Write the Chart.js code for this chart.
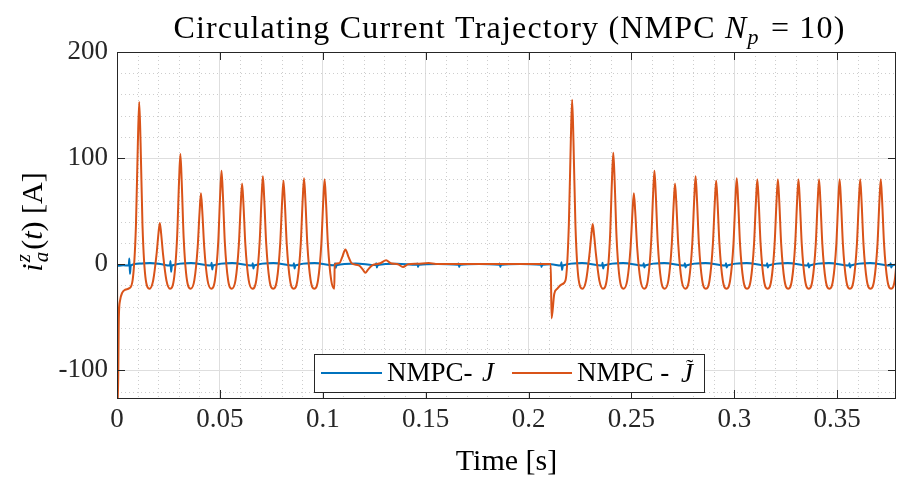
<!DOCTYPE html>
<html><head><meta charset="utf-8">
<script src="https://cdn.jsdelivr.net/npm/chart.js@4.4.0/dist/chart.umd.min.js"></script>
<style>html,body{margin:0;padding:0;background:#fff;}#wrap{width:897px;height:477px;}</style>
</head><body><div id="wrap"><canvas id="c" width="897" height="477"></canvas></div>
<script>
// ---------- tick values / labels ----------
const xTickValues = [0, 0.05, 0.1, 0.15, 0.2, 0.25, 0.3, 0.35];
const xTickLabels = ['0', '0.05', '0.1', '0.15', '0.2', '0.25', '0.3', '0.35'];
const xMinorTicks = [0.01,0.02,0.03,0.04,0.06,0.07,0.08,0.09,0.11,0.12,0.13,0.14,0.16,0.17,0.18,0.19,0.21,0.22,0.23,0.24,0.26,0.27,0.28,0.29,0.31,0.32,0.33,0.34,0.36,0.37];
const yTickValues = [-100, 0, 100, 200];
const yTickLabels = ['-100', '0', '100', '200'];
const yMinorTicks = [-120,-80,-60,-40,-20,20,40,60,80,120,140,160,180];
const xRange = [0, 0.3786];
const yRange = [-126, 200];
const seriesNames = ['NMPC- J', 'NMPC - J\u0303'];

// ---------- NMPC - J~ (orange): [time s, current A] ----------
const jTildeStartup = [[0,-4],[0.0004,-135],[0.0009,-50],[0.0015,-34],[0.0025,-27],[0.004,-24],[0.006,-22.5]];
const jTildePhase1 = [
[0.0076,-15],[0.0092,36],[0.01015,115],[0.0108,153],[0.01145,115],[0.0124,36],[0.014,-15],[0.0158,-23],
[0.0176,-15],[0.0192,9],[0.02015,29],[0.0208,39],[0.02145,29],[0.0224,9],[0.024,-15],[0.0258,-23],
[0.0276,-15],[0.0292,25],[0.03015,78],[0.0308,104],[0.03145,78],[0.0324,25],[0.034,-15],[0.0358,-23],
[0.0376,-15],[0.0392,16],[0.04015,50],[0.0408,67],[0.04145,50],[0.0424,16],[0.044,-15],[0.0458,-23],
[0.0476,-15],[0.0492,21],[0.05015,66],[0.0508,88],[0.05145,66],[0.0524,21],[0.054,-15],[0.0558,-23],
[0.0576,-15],[0.0592,18],[0.06015,57],[0.0608,76],[0.06145,57],[0.0624,18],[0.064,-15],[0.0658,-23],
[0.0677,-15],[0.0693,20],[0.07025,62],[0.0709,83],[0.07155,62],[0.0725,20],[0.0741,-15],[0.0759,-23],
[0.0777,-15],[0.0793,19],[0.08025,59],[0.0809,79],[0.08155,59],[0.0825,19],[0.0841,-15],[0.0859,-23],
[0.0877,-15],[0.0893,19],[0.09025,61],[0.0909,81],[0.09155,61],[0.0925,19],[0.0941,-15],[0.0959,-23],
[0.0977,-15],[0.0993,19],[0.10025,60],[0.1009,80],[0.10155,60],[0.1025,19],[0.1041,-15],[0.1056,-23]];
const jTildeSettle = [[0.1058,0],[0.108,1],[0.1095,7],[0.111,14],[0.1125,7],[0.114,1],[0.1175,-1],[0.1195,-5],[0.1207,-8],[0.122,-5],[0.124,-1],[0.128,1],[0.1308,3.8],[0.133,1],[0.1365,0],[0.139,-2.5],[0.1415,0],[0.146,0.5],[0.1515,1.2],[0.155,0.3],[0.16,0.3],[0.18,0.3],[0.2108,0.3]];
const jTildePhase2 = [
[0.2112,-51],[0.2125,-28],[0.214,-23],[0.216,-19],[0.218,-15],[0.2196,37],[0.22055,116],[0.2212,155],[0.22185,116],[0.2228,37],[0.2244,-15],[0.2262,-23],
[0.2280,-15],[0.2296,9],[0.23055,28],[0.2312,38],[0.23185,28],[0.2328,9],[0.2344,-15],[0.2362,-23],
[0.2380,-15],[0.2396,25],[0.24055,79],[0.2412,105],[0.24185,79],[0.2428,25],[0.2444,-15],[0.2462,-23],
[0.2480,-15],[0.2496,16],[0.25055,50],[0.2512,67],[0.25185,50],[0.2528,16],[0.2544,-15],[0.2562,-23],
[0.2580,-15],[0.2596,21],[0.26055,66],[0.2612,88],[0.26185,66],[0.2628,21],[0.2644,-15],[0.2662,-23],
[0.2680,-15],[0.2696,18],[0.27055,57],[0.2712,76],[0.27185,57],[0.2728,18],[0.2744,-15],[0.2762,-23],
[0.2780,-15],[0.2796,20],[0.28055,62],[0.2812,83],[0.28185,62],[0.2828,20],[0.2844,-15],[0.2862,-23],
[0.2880,-15],[0.2896,19],[0.29055,59],[0.2912,79],[0.29185,59],[0.2928,19],[0.2944,-15],[0.2962,-23],
[0.2980,-15],[0.2996,19],[0.30055,61],[0.3012,81],[0.30185,61],[0.3028,19],[0.3044,-15],[0.3062,-23],
[0.3080,-15],[0.3096,19],[0.31055,60],[0.3112,80],[0.31185,60],[0.3128,19],[0.3144,-15],[0.3162,-23],
[0.3180,-15],[0.3196,19],[0.32055,60],[0.3212,80],[0.32185,60],[0.3228,19],[0.3244,-15],[0.3262,-23],
[0.3280,-15],[0.3296,19],[0.33055,60],[0.3312,80],[0.33185,60],[0.3328,19],[0.3344,-15],[0.3362,-23],
[0.3380,-15],[0.3396,19],[0.34055,60],[0.3412,80],[0.34185,60],[0.3428,19],[0.3444,-15],[0.3462,-23],
[0.3480,-15],[0.3496,19],[0.35055,60],[0.3512,80],[0.35185,60],[0.3528,19],[0.3544,-15],[0.3562,-23],
[0.3580,-15],[0.3596,19],[0.36055,60],[0.3612,80],[0.36185,60],[0.3628,19],[0.3644,-15],[0.3662,-23],
[0.3680,-15],[0.3696,19],[0.37055,60],[0.3712,80],[0.37185,60],[0.3728,19],[0.3744,-15],[0.3762,-23],
[0.3780,-15],[0.3796,19]];

// ---------- NMPC- J (blue): [time s, current A] ----------
const jPhase1 = [
[0,-1.5],[0.003,-1],[0.0057,-1.2],[0.006,5.5],[0.0063,-9],[0.0067,-1.2],[0.011,0.8],[0.016,1.2],[0.021,0.3],
[0.0257,-1.2],[0.026,3],[0.0263,-7],[0.0267,-1.2],[0.036,1.2],
[0.0457,-1.2],[0.046,1.5],[0.0463,-5],[0.0467,-1.2],[0.056,1.2],
[0.0657,-1.2],[0.066,1],[0.0663,-4],[0.0667,-1.2],[0.076,1.2],
[0.0857,-1.2],[0.086,1],[0.0863,-4],[0.0867,-1.2],[0.096,1.2],
[0.1057,-1],[0.106,1],[0.1063,-3.5],[0.1067,-1],[0.116,0.8],
[0.1257,-0.8],[0.126,1],[0.1263,-3],[0.1267,-0.8],[0.136,0.5],
[0.1457,-0.5],[0.146,0.8],[0.1463,-2.5],[0.1467,-0.5],[0.156,0.3],
[0.1657,-0.5],[0.166,0.8],[0.1663,-2.5],[0.1667,-0.5],[0.176,0.3],
[0.1857,-0.5],[0.186,0.8],[0.1863,-2.5],[0.1867,-0.5],[0.196,0.3],
[0.2057,-0.5],[0.206,0.8],[0.2063,-2.5],[0.2067,-0.5],[0.211,0]];
const jPhase2 = [
[0.2157,-1.2],[0.216,2],[0.2163,-5.5],[0.2167,-1.2],[0.226,1.2],
[0.2357,-1.2],[0.236,1.5],[0.2363,-4],[0.2367,-1.2],[0.246,1.2],
[0.2557,-1.2],[0.256,1],[0.2563,-3],[0.2567,-1.2],[0.266,1.2],
[0.2757,-1.2],[0.276,1],[0.2763,-3],[0.2767,-1.2],[0.286,1.2],
[0.2957,-1.2],[0.296,1],[0.2963,-3],[0.2967,-1.2],[0.306,1.2],
[0.3157,-1.2],[0.316,1],[0.3163,-3],[0.3167,-1.2],[0.326,1.2],
[0.3357,-1.2],[0.336,1],[0.3363,-3],[0.3367,-1.2],[0.346,1.2],
[0.3557,-1.2],[0.356,1],[0.3563,-3],[0.3567,-1.2],[0.366,1.2],
[0.3757,-1.2],[0.376,1],[0.3763,-3],[0.3767,-1.2],[0.3786,-0.5]];

const BLUE = '#0072BD', ORANGE = '#D95319', AXIS = '#262626';
const FONT = '"Liberation Serif", "Times New Roman", serif';
const toXY = arr => arr.map(p => ({x: p[0], y: p[1]}));

const decor = {
  id: 'decor',
  beforeDatasetsDraw(chart) {
    const {ctx, chartArea: a, scales: {x, y}} = chart;
    ctx.save();
    ctx.strokeStyle = '#cdcdcd'; ctx.lineWidth = 1; ctx.setLineDash([1, 3]);
    for (const v of xMinorTicks) {
      const px = Math.round(x.getPixelForValue(v)) + 0.5;
      ctx.beginPath(); ctx.moveTo(px, a.top); ctx.lineTo(px, a.bottom); ctx.stroke();
    }
    for (const v of yMinorTicks) {
      const py = Math.round(y.getPixelForValue(v)) + 0.5;
      ctx.beginPath(); ctx.moveTo(a.left, py); ctx.lineTo(a.right, py); ctx.stroke();
    }
    ctx.restore();
  },
  afterDatasetsDraw(chart) {
    const {ctx, chartArea: a, scales: {x, y}} = chart;
    ctx.save();
    ctx.strokeStyle = AXIS; ctx.lineWidth = 1;
    ctx.strokeRect(Math.round(a.left) + 0.5, Math.round(a.top) + 0.5, Math.round(a.right - a.left) - 1, Math.round(a.bottom - a.top));
    const tl = 8;
    ctx.beginPath();
    for (const v of xTickValues) {
      const px = Math.round(x.getPixelForValue(v)) + 0.5;
      ctx.moveTo(px, a.bottom); ctx.lineTo(px, a.bottom - tl);
      ctx.moveTo(px, a.top); ctx.lineTo(px, a.top + tl);
    }
    for (const v of yTickValues) {
      const py = Math.round(y.getPixelForValue(v)) + 0.5;
      ctx.moveTo(a.left, py); ctx.lineTo(a.left + tl, py);
      ctx.moveTo(a.right, py); ctx.lineTo(a.right - tl, py);
    }
    ctx.stroke();

    // legend
    const L = {x: 314.5, y: 354.5, w: 390, h: 38};
    ctx.fillStyle = '#fff'; ctx.fillRect(L.x, L.y, L.w, L.h);
    ctx.strokeStyle = AXIS; ctx.strokeRect(L.x, L.y, L.w, L.h);
    ctx.lineWidth = 2;
    ctx.strokeStyle = BLUE; ctx.beginPath(); ctx.moveTo(321, 373); ctx.lineTo(382, 373); ctx.stroke();
    ctx.strokeStyle = ORANGE; ctx.beginPath(); ctx.moveTo(512, 373); ctx.lineTo(572, 373); ctx.stroke();
    ctx.fillStyle = '#000'; ctx.textBaseline = 'alphabetic'; ctx.textAlign = 'left';
    ctx.font = '27px ' + FONT;
    ctx.fillText('NMPC-', 387, 381);
    ctx.fillText('NMPC -', 577, 381);
    ctx.font = 'italic 27px ' + FONT;
    ctx.fillText('J', 482, 381);
    ctx.fillText('J', 681, 382);
    ctx.font = '22px ' + FONT;
    ctx.fillText('\u02DC', 686, 374);
    ctx.restore();
  },
  afterDraw(chart) {
    const {ctx, chartArea: a} = chart;
    ctx.save();
    ctx.fillStyle = '#000'; ctx.textBaseline = 'alphabetic'; ctx.textAlign = 'left';
    // title
    const TR = '32px ' + FONT, TI = 'italic 32px ' + FONT, TS = 'italic 22px ' + FONT;
    ctx.letterSpacing = '1.2px';
    const pieces = [['Circulating Current Trajectory (NMPC ', TR, 0], ['N', TI, 0], ['p', TS, 6], [' = 10)', TR, 0]];
    let w = 0;
    for (const p of pieces) { ctx.font = p[1]; w += ctx.measureText(p[0]).width + (p[0] === 'p' ? 2 : 0); }
    let cx = (a.left + a.right) / 2 - w / 2 + 3;
    for (const p of pieces) { ctx.font = p[1]; ctx.fillText(p[0], cx, 38 + p[2]); cx += ctx.measureText(p[0]).width + (p[0] === 'p' ? 2 : 0); }
    ctx.letterSpacing = '0px';
    // x label
    const R = '30px ' + FONT, I = 'italic 30px ' + FONT, S = 'italic 21px ' + FONT;
    ctx.font = R; ctx.textAlign = 'center';
    ctx.fillText('Time [s]', (a.left + a.right) / 2, 470);
    // y label (rotated)
    ctx.textAlign = 'left';
    ctx.translate(42, 222); ctx.rotate(-Math.PI / 2);
    ctx.font = I; const wi = ctx.measureText('i').width;
    ctx.font = S; const wz = ctx.measureText('z').width, wa = ctx.measureText('a').width;
    ctx.font = R; const wo = ctx.measureText('(').width, wc = ctx.measureText(') [A]').width;
    ctx.font = I; const wt = ctx.measureText('t').width;
    const total = wi + Math.max(wz, wa) + 3 + wo + wt + wc;
    let lx = -total / 2;
    ctx.font = I; ctx.fillText('i', lx, 0); lx += wi + 1;
    ctx.font = S; ctx.fillText('z', lx, -12); ctx.fillText('a', lx, 6); lx += Math.max(wz, wa) + 2;
    ctx.font = R; ctx.fillText('(', lx, 0); lx += wo;
    ctx.font = I; ctx.fillText('t', lx, 0); lx += wt;
    ctx.font = R; ctx.fillText(') [A]', lx, 0);
    ctx.restore();
  }
};

new Chart(document.getElementById('c'), {
  type: 'line',
  data: {
    datasets: [
      {label: seriesNames[1], data: toXY([...jTildeStartup, ...jTildePhase1, ...jTildeSettle, ...jTildePhase2]),
       borderColor: ORANGE, borderWidth: 2, pointRadius: 0, cubicInterpolationMode: 'monotone', fill: false, order: 0},
      {label: seriesNames[0], data: toXY([...jPhase1, ...jPhase2]),
       borderColor: BLUE, borderWidth: 2, pointRadius: 0, cubicInterpolationMode: 'monotone', fill: false, order: 1}
    ]
  },
  options: {
    responsive: false, animation: false, devicePixelRatio: 1,
    layout: {padding: {top: 52, right: 1, left: 0, bottom: 0}},
    plugins: {legend: {display: false}, tooltip: {enabled: false}, title: {display: false}},
    scales: {
      x: {
        type: 'linear', min: xRange[0], max: xRange[1],
        afterBuildTicks: s => { s.ticks = xTickValues.map(v => ({value: v})); },
        afterFit: s => { s.height = 79; },
        ticks: {callback: (v, i) => xTickLabels[i], font: {family: FONT, size: 27}, color: AXIS, padding: 6, maxRotation: 0, autoSkip: false},
        grid: {color: '#dedede', lineWidth: 1, drawTicks: false},
        border: {display: false}
      },
      y: {
        type: 'linear', min: yRange[0], max: yRange[1],
        afterBuildTicks: s => { s.ticks = yTickValues.map(v => ({value: v})); },
        afterFit: s => { s.width = 117; },
        ticks: {callback: (v, i) => yTickLabels[i], font: {family: FONT, size: 27}, color: AXIS, padding: 9, autoSkip: false},
        grid: {color: '#dedede', lineWidth: 1, drawTicks: false},
        border: {display: false}
      }
    }
  },
  plugins: [decor]
});
</script></body></html>
